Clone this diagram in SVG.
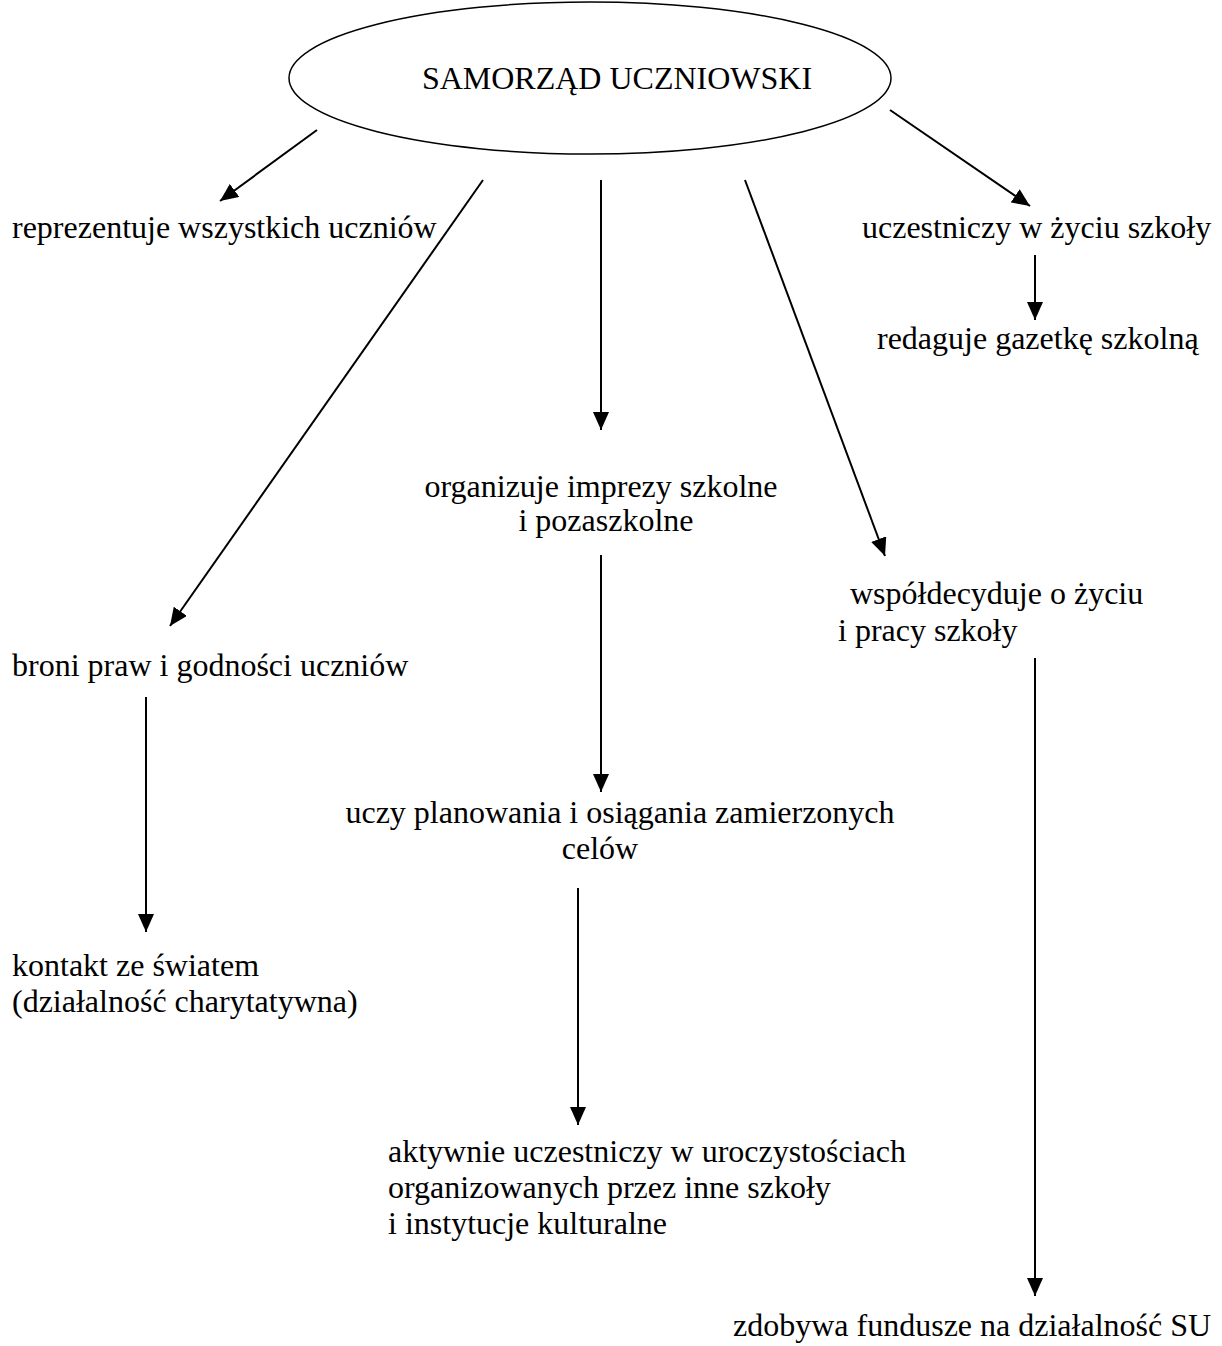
<svg xmlns="http://www.w3.org/2000/svg" width="1222" height="1346" viewBox="0 0 1222 1346">
<style>
text{font-family:"Liberation Serif","Times New Roman",serif;font-size:32px;fill:#000}
.c{stroke:#000;stroke-width:2;fill:none}
</style>
<defs>
<marker id="ah" viewBox="0 0 18 16" refX="18" refY="8" markerWidth="18" markerHeight="16" markerUnits="userSpaceOnUse" orient="auto">
<path d="M0,0 L18,8 L0,16 Z" fill="#000"/>
</marker>
</defs>
<rect width="1222" height="1346" fill="#fff"/>
<g id="connectors">
<line class="c" x1="317" y1="130" x2="220" y2="201" marker-end="url(#ah)"/>
<line class="c" x1="483" y1="180" x2="170" y2="626" marker-end="url(#ah)"/>
<line class="c" x1="601" y1="180" x2="601" y2="430" marker-end="url(#ah)"/>
<line class="c" x1="745" y1="180" x2="885" y2="556" marker-end="url(#ah)"/>
<line class="c" x1="890" y1="110" x2="1030" y2="206" marker-end="url(#ah)"/>
<line class="c" x1="1035" y1="255" x2="1035" y2="320" marker-end="url(#ah)"/>
<line class="c" x1="601" y1="555" x2="601" y2="792" marker-end="url(#ah)"/>
<line class="c" x1="146" y1="697" x2="146" y2="932" marker-end="url(#ah)"/>
<line class="c" x1="578" y1="888" x2="578" y2="1125" marker-end="url(#ah)"/>
<line class="c" x1="1035" y1="658" x2="1035" y2="1296" marker-end="url(#ah)"/>
</g>
<g id="root">
<ellipse cx="590" cy="78" rx="301" ry="76" fill="#fff" stroke="#000" stroke-width="1.5"/>
<text x="617" y="89" text-anchor="middle">SAMORZĄD UCZNIOWSKI</text>
</g>
<g id="n1"><text x="12" y="238">reprezentuje wszystkich uczniów</text></g>
<g id="n2"><text x="862" y="238">uczestniczy w życiu szkoły</text></g>
<g id="n3"><text x="877" y="349">redaguje gazetkę szkolną</text></g>
<g id="n4"><text x="601" y="497" text-anchor="middle">organizuje imprezy szkolne</text><text x="606" y="531" text-anchor="middle">i pozaszkolne</text></g>
<g id="n5"><text x="850" y="604">współdecyduje o życiu</text><text x="838" y="641">i pracy szkoły</text></g>
<g id="n6"><text x="12" y="676">broni praw i godności uczniów</text></g>
<g id="n7"><text x="620" y="823" text-anchor="middle">uczy planowania i osiągania zamierzonych</text><text x="600" y="859" text-anchor="middle">celów</text></g>
<g id="n8"><text x="12" y="976">kontakt ze światem</text><text x="12" y="1012">(działalność charytatywna)</text></g>
<g id="n9"><text x="388" y="1162">aktywnie uczestniczy w uroczystościach</text><text x="388" y="1198">organizowanych przez inne szkoły</text><text x="388" y="1234">i instytucje kulturalne</text></g>
<g id="n10"><text x="733" y="1336">zdobywa fundusze na działalność SU</text></g>
</svg>
